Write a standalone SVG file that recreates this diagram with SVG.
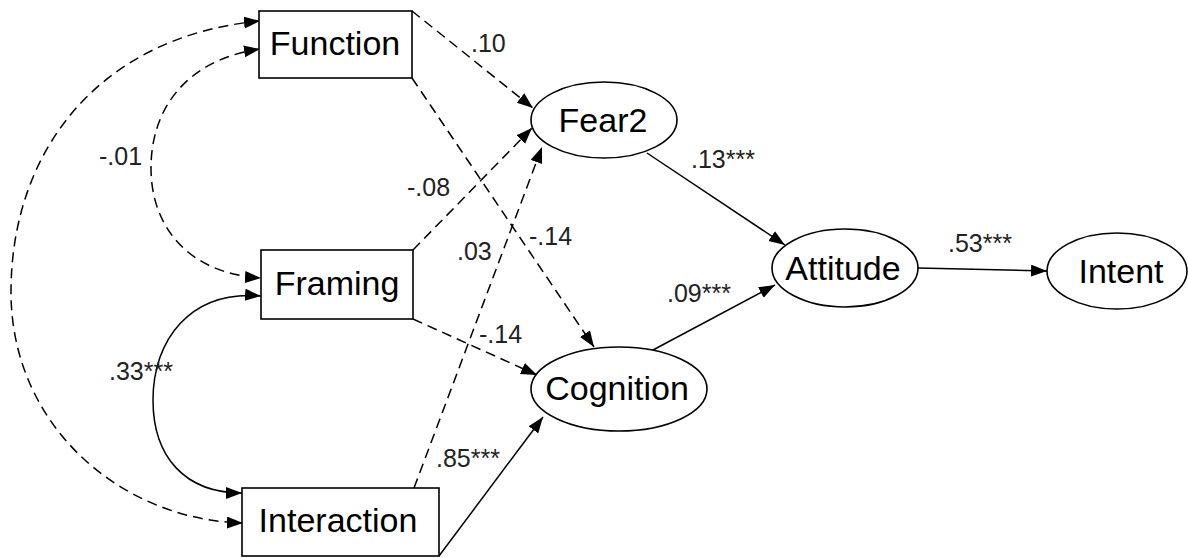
<svg xmlns="http://www.w3.org/2000/svg" width="1188" height="558" viewBox="0 0 1188 558">
<style>
.box{fill:#fff;stroke:#000;stroke-width:1.6}
.node{font-family:"Liberation Sans",Arial,sans-serif;font-size:34px;fill:#000;text-anchor:middle}
.lbl{font-family:"Liberation Sans",Arial,sans-serif;font-size:25px;fill:#222}
.e{fill:none;stroke:#000;stroke-width:1.5}
.d{stroke-dasharray:10 6}
</style>
<defs>
<marker id="ah" markerUnits="userSpaceOnUse" markerWidth="18" markerHeight="14" refX="16" refY="6" orient="auto-start-reverse" viewBox="0 0 18 14">
<path d="M0,0 L16,6 L0,12 z" fill="#000"/>
</marker>
</defs>
<rect width="1188" height="558" fill="#fff"/>
<g id="connectors">
<path class="e d" d="M412,11 L533,108" marker-end="url(#ah)"/>
<path class="e d" d="M412,78 L594,347" marker-end="url(#ah)"/>
<path class="e d" d="M413,250 L532,128" marker-end="url(#ah)"/>
<path class="e d" d="M414,488 L542,147" marker-end="url(#ah)"/>
<path class="e d" d="M413,319 L537,375" marker-end="url(#ah)"/>
<path class="e" d="M439,556 L543,417" marker-end="url(#ah)"/>
<path class="e" d="M647,153 L785,245" marker-end="url(#ah)"/>
<path class="e" d="M653,350 L775,285" marker-end="url(#ah)"/>
<path class="e" d="M918,268 L1047,271" marker-end="url(#ah)"/>
<path class="e d" d="M260,49 C185,60 151,110 151,168 C151,228 190,274 261,278" marker-start="url(#ah)" marker-end="url(#ah)"/>
<path class="e d" d="M260,21 C100,36 11,150 11,292 C11,425 120,520 243,523" marker-start="url(#ah)" marker-end="url(#ah)"/>
<path class="e" d="M261,296 C190,290 153,340 153,400 C153,457 185,493 242,493" marker-start="url(#ah)" marker-end="url(#ah)"/>
<text class="lbl" x="471" y="52">.10</text>
<text class="lbl" x="529" y="245">-.14</text>
<text class="lbl" x="407" y="196">-.08</text>
<text class="lbl" x="457" y="260">.03</text>
<text class="lbl" x="479" y="343">-.14</text>
<text class="lbl" x="436" y="467">.85***</text>
<text class="lbl" x="691" y="168">.13***</text>
<text class="lbl" x="667" y="302">.09***</text>
<text class="lbl" x="948" y="252">.53***</text>
<text class="lbl" x="99" y="165">-.01</text>
<text class="lbl" x="109" y="380">.33***</text>
</g>
<g id="function"><rect class="box" x="259" y="11" width="153" height="67"/><text class="node" x="335" y="55">Function</text></g>
<g id="framing"><rect class="box" x="261" y="250" width="152" height="69"/><text class="node" x="337" y="295">Framing</text></g>
<g id="interaction"><rect class="box" x="242" y="488" width="197" height="68"/><text class="node" x="338" y="532">Interaction</text></g>
<g id="fear2"><ellipse class="box" cx="604" cy="120" rx="73" ry="38"/><text class="node" x="603" y="132">Fear2</text></g>
<g id="cognition"><ellipse class="box" cx="619" cy="389" rx="88" ry="42"/><text class="node" x="617" y="400">Cognition</text></g>
<g id="attitude"><ellipse class="box" cx="845" cy="268" rx="73" ry="39"/><text class="node" x="843" y="280">Attitude</text></g>
<g id="intent"><ellipse class="box" cx="1117" cy="271" rx="70" ry="38"/><text class="node" x="1121" y="283">Intent</text></g>
</svg>
